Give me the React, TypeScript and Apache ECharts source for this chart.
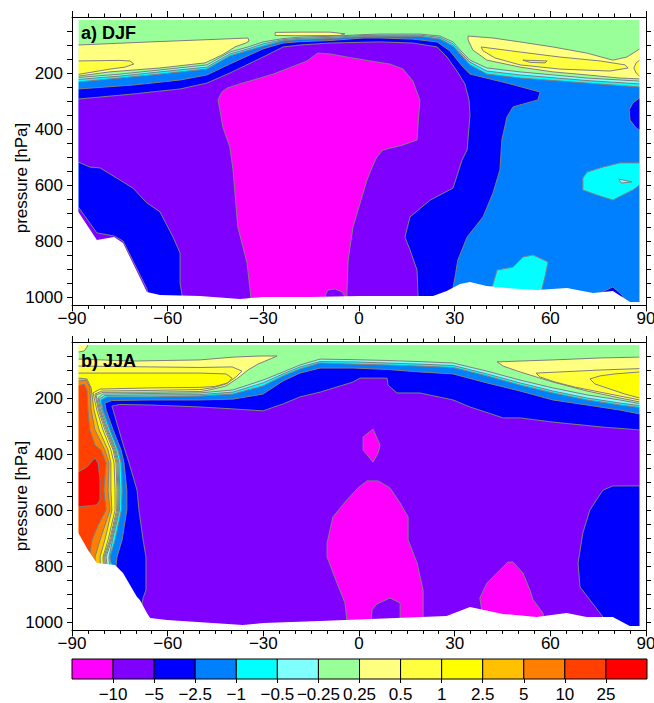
import React, { useEffect, useRef } from "react";
import * as echarts from "echarts";

const FONT = "'Liberation Sans', Arial, Helvetica, sans-serif";
const LINE_COLOR = "#7f7f7f";

// colour levels (lowest to highest) and the colorbar tick labels
const levelColors = [
  "#ff00ff", "#8000ff", "#0000ff", "#0080ff", "#00ffff", "#80ffff", "#99ff99",
  "#ffff80", "#ffff40", "#ffff00", "#ffc000", "#ff8000", "#ff4000", "#ff0000",
];
const levelLabels = ["\u221210", "\u22125", "\u22122.5", "\u22121", "\u22120.5", "\u22120.25", "0.25", "0.5", "1", "2.5", "5", "10", "25"];
const colorbarTickValues = [1, 2, 3, 4, 5, 6, 7, 8, 9, 10, 11, 12, 13];

// axes
const pressureTickValues = [50, 100, 150, 200, 250, 300, 350, 400, 450, 500, 550, 600, 650, 700, 750, 800, 850, 900, 950, 1000];
const pressureLabelValues = [200, 400, 600, 800, 1000];
const P_TOP = 10;
const P_MAX = 1030;
const LAT_EDGE = 88;

type Pt = number[];

// ---------------- a) DJF ----------------
const djfSurface: Pt[] = [[-88, 696], [-82.2, 796], [-76.8, 786], [-74, 807], [-66.5, 982], [-62.4, 993], [-49.9, 996], [-37.3, 1007], [-30, 1000], [-15.4, 1000], [0.3, 996], [23.2, 996], [27.5, 979], [31.7, 954], [34.8, 946], [40, 961], [46.3, 968], [55.8, 975], [65.2, 968], [73.4, 986], [79.6, 979], [85, 1018], [88, 1018]];
const djfPos025West: Pt[] = [[-88, 100], [-65.5, 89], [-49.9, 82], [-34.8, 75], [-34.5, 86], [-35.5, 93], [-38.9, 107], [-43, 136], [-48.3, 164], [-62.4, 182], [-78.1, 196], [-88, 211]];
const djfPos05West: Pt[] = [[-88, 157], [-75, 155], [-71.8, 157], [-70.6, 168], [-73.4, 179], [-78.1, 186], [-88, 205]];
const djfPos025Mid: Pt[] = [[-26.3, 55], [-18.5, 54], [-9.1, 54], [-4.4, 60], [-6, 66], [-18.5, 67], [-26.3, 66]];
const djfPos025East: Pt[] = [[88, 221], [81.8, 218], [71.5, 207], [60.8, 196], [50.5, 179], [40.1, 154], [35.7, 118], [34.2, 82], [34.2, 68], [42, 75], [50.5, 89], [60.8, 107], [71.5, 129], [79.6, 154], [84, 143], [88, 114]];
const djfPos05East: Pt[] = [[38.3, 107], [50.5, 125], [63, 143], [75.6, 157], [83.4, 171], [84.4, 182], [78.7, 193], [63, 186], [50.5, 171], [42.6, 146], [38.9, 121]];
const djfPos05EastEdge: Pt[] = [[88, 154], [86.9, 164], [86.2, 182], [86.9, 200], [88, 211]];
const djfPos1East: Pt[] = [[51.4, 154], [59, 157], [58.3, 164], [53.6, 162]];
const djfNeg025: Pt[] = [[-88, 216], [-75, 204], [-62.4, 189], [-47.7, 171], [-40.5, 125], [-34.8, 107], [-30.1, 89], [-23.8, 77], [-18.5, 72], [-9.1, 69], [1.3, 63], [6.6, 61], [19.1, 61], [25.4, 68], [29.5, 89], [32.3, 125], [34.8, 154], [40.1, 182], [50.5, 196], [71.5, 218], [88, 229]];
const djfNeg05: Pt[] = [[-88, 223], [-75, 211], [-62.4, 196], [-47.7, 179], [-40.5, 132], [-34.8, 114], [-30.1, 96], [-23.8, 81], [-18.5, 76], [-9.1, 73], [1.3, 66], [6.6, 65], [19.1, 65], [25.4, 73], [29.5, 96], [32.3, 132], [34.8, 161], [40.1, 193], [50.5, 207], [71.5, 227], [88, 239]];
const djfNeg1: Pt[] = [[-88, 232], [-75, 218], [-62.4, 204], [-47.7, 186], [-40.5, 139], [-34.8, 120], [-30.1, 104], [-23.8, 85], [-18.5, 80], [-9.1, 77], [1.3, 70], [6.6, 69], [19.1, 69], [25.4, 79], [29.5, 104], [32.3, 139], [34.8, 171], [40.1, 204], [50.5, 218], [71.5, 236], [88, 250]];
const djfNeg25: Pt[] = [[-88, 257], [-70.9, 243], [-56.1, 225], [-47.7, 207], [-40.5, 168], [-30.1, 114], [-23.8, 93], [-18.5, 88], [-9.1, 84], [1.3, 75], [6.6, 75], [16.9, 79], [24.5, 89], [28.5, 121], [32.6, 179], [34.8, 204], [46.4, 236], [56.8, 268], [56.1, 296], [48.3, 321], [46.4, 357], [44.8, 439], [44.2, 546], [42, 629], [38.9, 714], [33.9, 786], [31, 868], [30.1, 929], [28.5, 1030]];
const djfNeg5: Pt[] = [[-88, 293], [-70.9, 275], [-56.1, 257], [-47.7, 236], [-40.5, 200], [-30.1, 143], [-23.8, 107], [-18.5, 100], [-9.1, 93], [6.6, 89], [16.9, 93], [24.5, 107], [27.6, 143], [30.7, 193], [33.2, 239], [34.5, 296], [34.8, 350], [33.9, 475], [32.3, 511], [29.5, 611], [22.3, 654], [16, 714], [14.4, 786], [16, 832], [18.2, 904], [18.5, 993], [18.5, 1030]];
const djfNeg5West: Pt[] = [[-88, 518], [-84.4, 536], [-81.2, 539], [-75, 582], [-70.9, 611], [-66.5, 664], [-62.4, 696], [-58.3, 786], [-56.1, 843], [-56.1, 950], [-55.5, 993], [-55.5, 1030]];
const djfNeg5Strip: Pt[] = [[-88, 679], [-82.2, 771], [-76.8, 782], [-74, 800], [-66.5, 971], [-65.5, 1030]];
const djfNeg10: Pt[] = [[-33.6, 1030], [-35.1, 879], [-38, 750], [-39.5, 546], [-40.5, 464], [-42.7, 393], [-43.6, 332], [-44.2, 296], [-43, 268], [-41.4, 254], [-37.3, 239], [-26.9, 204], [-16.3, 157], [-12.9, 129], [-9.1, 132], [-3.8, 143], [3.5, 157], [9.7, 168], [13.8, 186], [16.9, 229], [18.5, 279], [19.1, 296], [18.5, 386], [18.2, 439], [13.8, 457], [7.5, 475], [5.6, 500], [4.4, 529], [2.5, 582], [-1.9, 750], [-3.4, 868], [-3.8, 986], [-3.8, 1030]];
const djfBump: Pt[] = [[-10.9, 1030], [-10.4, 990], [-9.7, 975], [-7.5, 971], [-5.3, 982], [-4.6, 995], [-4.4, 1030]];
const djfBlueEdge: Pt[] = [[88, 289], [85.9, 307], [84.7, 332], [85, 368], [86.9, 396], [88, 404]];
const djfBlueSurface: Pt[] = [[75.6, 1030], [76.2, 982], [79.6, 964], [82.5, 993], [84.4, 1030]];
const djfCyanEast: Pt[] = [[88, 521], [81.8, 521], [76.5, 536], [71.5, 554], [70.2, 575], [70.2, 618], [74.6, 636], [79.6, 654], [85.9, 618], [88, 600]];
const djfLightCyanDot: Pt[] = [[81.5, 579], [85.6, 589], [82.2, 593]];
const djfCyanSurface: Pt[] = [[40.1, 1030], [43.3, 904], [48.3, 893], [51.4, 857], [54.6, 850], [59.3, 875], [58.3, 929], [56.1, 1030]];

// ---------------- b) JJA ----------------
const jjaSurface: Pt[] = [[-88, 682], [-85, 743], [-82.2, 789], [-76.5, 796], [-74, 825], [-70.9, 886], [-69.6, 911], [-68.7, 921], [-66.5, 968], [-65.5, 986], [-60.2, 993], [-36.4, 1011], [-30, 1004], [-12.3, 996], [27.5, 979], [34.8, 946], [45.1, 971], [55.7, 982], [65.1, 968], [71.4, 982], [79.6, 982], [84.9, 1014], [88, 1014]];
const jjaCorner: Pt[] = [[-88, 36], [-86.2, 32], [-85.3, 18], [-85, 10]];
const jjaPos025: Pt[] = [[-88, 61], [-70.9, 68], [-49.9, 64], [-39.5, 54], [-31, 50], [-25.7, 50], [-27.9, 61], [-31.7, 79], [-34.8, 100], [-38, 129], [-41.7, 157], [-46.7, 171], [-49.9, 177], [-65.5, 179], [-80.3, 180], [-82.5, 189], [-81.4, 243], [-79.3, 314], [-76.8, 386], [-75.9, 432], [-75.6, 529], [-75.7, 600], [-77.9, 707], [-79.7, 768], [-79.3, 832]];
const jjaPos05: Pt[] = [[-88, 86], [-65.5, 89], [-49.9, 91], [-39.8, 89], [-36.7, 104], [-38.6, 125], [-41.7, 150], [-46.1, 164], [-49.9, 170], [-65.5, 173], [-80.6, 175], [-82.8, 186], [-81.7, 243], [-79.7, 314], [-77.1, 386], [-76.2, 432], [-75.9, 529], [-76, 600], [-78.2, 707], [-80, 768], [-79.7, 832]];
const jjaPos1: Pt[] = [[-88, 111], [-65.5, 111], [-49.9, 111], [-41.7, 114], [-39.8, 129], [-41.1, 146], [-45.2, 159], [-49.9, 162], [-65.5, 164], [-81.2, 168], [-83.4, 182], [-82.2, 243], [-80.3, 314], [-77.8, 386], [-76.8, 432], [-76.5, 529], [-76.5, 600], [-78.7, 707], [-80.3, 768], [-80, 832]];
const jjaPos25: Pt[] = [[-88, 129], [-85.3, 132], [-84, 164], [-83.1, 243], [-81.5, 314], [-78.7, 386], [-77.8, 432], [-77.8, 529], [-77.5, 600], [-79.7, 707], [-81.2, 768], [-80.9, 832]];
const jjaPos5: Pt[] = [[-88, 139], [-85.6, 136], [-84.4, 161], [-84, 243], [-82.8, 314], [-79.7, 386], [-78.4, 432], [-78.7, 529], [-78.1, 600], [-81.2, 707], [-82.8, 768], [-82.5, 832]];
const jjaPos10: Pt[] = [[-88, 157], [-86.2, 150], [-85.3, 171], [-85, 243], [-84.4, 314], [-82.8, 368], [-80.9, 386], [-79.3, 432], [-80, 529], [-79.3, 600], [-81.8, 654], [-83.7, 707], [-84.7, 779]];
const jjaPos25Red: Pt[] = [[-88, 464], [-85.3, 446], [-82.8, 414], [-81.8, 432], [-81.2, 493], [-81.2, 564], [-82.2, 582], [-88, 589]];
const jjaPos025East: Pt[] = [[88, 214], [81.8, 200], [71.5, 175], [60.8, 143], [50.5, 107], [45.2, 86], [43.3, 71], [50.5, 68], [60.8, 64], [75.6, 57], [88, 54]];
const jjaPos05East: Pt[] = [[88, 207], [81.8, 193], [75.6, 179], [67.7, 161], [61.5, 143], [56.8, 125], [55.5, 111], [63, 107], [75.6, 100], [88, 95]];
const jjaPos1East: Pt[] = [[88, 200], [83.4, 186], [78.7, 168], [74, 150], [72.4, 132], [75.6, 121], [80.3, 114], [88, 107]];
const jjaNeg025: Pt[] = [[-78.7, 832], [-79.3, 768], [-77.6, 707], [-75.4, 600], [-75.3, 529], [-75.6, 432], [-76.5, 386], [-79, 314], [-81.1, 243], [-81.8, 200], [-80.3, 186], [-65.5, 184], [-49.9, 182], [-39.5, 171], [-30.1, 136], [-23.8, 107], [-18.5, 82], [-12.2, 61], [-1.9, 63], [8.8, 66], [19.1, 70], [29.5, 75], [40.1, 104], [50.5, 136], [60.8, 164], [71.5, 189], [81.8, 207], [88, 220]];
const jjaNeg05: Pt[] = [[-78.1, 832], [-78.4, 768], [-77.3, 707], [-75.1, 600], [-75, 529], [-75.3, 432], [-76.2, 386], [-78.7, 314], [-80.7, 243], [-81.5, 204], [-79.7, 191], [-65.5, 189], [-49.9, 188], [-39.5, 179], [-30.1, 146], [-23.8, 114], [-18.5, 89], [-12.2, 70], [-1.9, 71], [8.8, 75], [19.1, 79], [29.5, 84], [40.1, 114], [50.5, 146], [60.8, 175], [71.5, 200], [81.8, 218], [88, 227]];
const jjaNeg1: Pt[] = [[-77.1, 832], [-78.1, 768], [-76.5, 707], [-74.5, 600], [-74.3, 529], [-74.6, 432], [-75.6, 386], [-78.1, 314], [-80.3, 243], [-80.9, 207], [-79, 196], [-65.5, 196], [-49.9, 193], [-39.5, 186], [-30.1, 157], [-23.8, 121], [-18.5, 96], [-12.2, 75], [-1.9, 79], [8.8, 82], [19.1, 86], [29.5, 91], [40.1, 121], [50.5, 154], [60.8, 182], [71.5, 207], [81.8, 225], [88, 234]];
const jjaNeg25: Pt[] = [[-76.5, 832], [-75.9, 768], [-74.3, 707], [-72.8, 600], [-72.8, 529], [-73.7, 432], [-74.6, 386], [-77.1, 314], [-79.3, 243], [-79.7, 218], [-77.5, 209], [-65.5, 207], [-49.9, 207], [-39.5, 204], [-30.1, 186], [-23.8, 139], [-18.5, 111], [-12.2, 93], [-1.9, 93], [8.8, 98], [19.1, 107], [29.5, 114], [40.1, 146], [50.5, 175], [60.8, 207], [71.5, 225], [81.8, 243], [88, 257]];
const jjaNeg5: Pt[] = [[-68.4, 957], [-67.7, 914], [-66.8, 886], [-66.8, 768], [-67.7, 707], [-69, 600], [-69.6, 529], [-72.1, 432], [-73.4, 386], [-75.3, 314], [-77.1, 243], [-77.5, 229], [-75, 223], [-65.5, 225], [-49.9, 232], [-39.5, 239], [-30.1, 246], [-23.8, 221], [-18.5, 196], [-12.2, 179], [-5.9, 157], [-1.9, 143], [0.3, 129], [8.8, 129], [9.1, 154], [11.9, 182], [19.1, 182], [29.5, 207], [34.8, 232], [45.2, 271], [50.5, 271], [60.8, 286], [76.5, 304], [88, 314]];
const jjaNeg5East: Pt[] = [[88, 514], [79.6, 514], [76.5, 529], [72.4, 600], [70.2, 682], [68.7, 789], [69.3, 875], [72.4, 921], [76.5, 982], [77.4, 1030]];
const jjaNeg10Small: Pt[] = [[4.4, 311], [6.6, 368], [6, 396], [4.4, 429], [1.3, 386], [1.3, 339]];
const jjaNeg10Big: Pt[] = [[-3.4, 1030], [-4.4, 932], [-6.9, 861], [-10, 768], [-10, 718], [-8.2, 625], [-3.8, 564], [-0.3, 521], [2.5, 496], [6, 496], [9.7, 521], [12.9, 575], [15.4, 625], [15.4, 707], [18.2, 789], [20.1, 886], [20.1, 1030]];
const jjaBump: Pt[] = [[3.5, 1030], [4.1, 957], [5.6, 936], [9.7, 914], [12.9, 932], [12.9, 1030]];
const jjaNeg10East: Pt[] = [[39.5, 1030], [37.9, 914], [40.1, 861], [44.2, 814], [46.7, 786], [48.3, 786], [51.4, 825], [53.6, 886], [54.6, 921], [57.7, 968], [58.3, 1030]];

// ---------------- shape building ----------------
type Shape = { pts: Pt[]; fill?: string; closed?: boolean };
const fillS = (pts: Pt[], lvl: number): Shape => ({ pts, fill: levelColors[lvl] });
const lineS = (pts: Pt[], closed = false): Shape => ({ pts, closed });
const maskS = (pts: Pt[]): Shape => ({ pts, fill: "#ffffff" });
const closeDown = (line: Pt[]): Pt[] => [...line, [line[line.length - 1][0], P_MAX], [line[0][0], P_MAX]];
const domain: Pt[] = [[-LAT_EDGE, P_TOP], [LAT_EDGE, P_TOP], [LAT_EDGE, P_MAX], [-LAT_EDGE, P_MAX]];

function masks(surface: Pt[]): Shape[] {
  const last = surface[surface.length - 1];
  return [
    maskS([[-90, P_MAX], [-90, surface[0][1]], ...surface, [90, last[1]], [90, P_MAX]]),
    maskS([[-90, 0], [-LAT_EDGE, 0], [-LAT_EDGE, P_MAX], [-90, P_MAX]]),
    maskS([[LAT_EDGE, 0], [90, 0], [90, P_MAX], [LAT_EDGE, P_MAX]]),
    maskS([[-90, 0], [90, 0], [90, P_TOP], [-90, P_TOP]]),
  ];
}

const djfShapes: Shape[] = [
  fillS(domain, 6),
  fillS(djfPos025West, 7), fillS(djfPos05West, 8), fillS(djfPos025Mid, 7),
  fillS(djfPos025East, 7), fillS(djfPos05East, 8), fillS(djfPos05EastEdge, 8), fillS(djfPos1East, 9),
  fillS(closeDown(djfNeg025), 5), fillS(closeDown(djfNeg05), 4), fillS(closeDown(djfNeg1), 3),
  fillS(closeDown(djfNeg25), 2), fillS(djfBlueEdge, 2), fillS(djfBlueSurface, 2),
  fillS([...djfNeg5, ...[...djfNeg5West].reverse()], 1), fillS(closeDown(djfNeg5Strip), 1),
  fillS(djfNeg10, 0), fillS(djfBump, 1),
  fillS(djfCyanEast, 4), fillS(djfLightCyanDot, 5), fillS(djfCyanSurface, 4),
  lineS(djfPos025West), lineS(djfPos05West), lineS(djfPos025Mid, true), lineS(djfPos025East),
  lineS(djfPos05East, true), lineS(djfPos05EastEdge), lineS(djfPos1East, true),
  lineS(djfNeg025), lineS(djfNeg05), lineS(djfNeg1), lineS(djfNeg25), lineS(djfBlueEdge), lineS(djfBlueSurface),
  lineS(djfNeg5), lineS(djfNeg5West), lineS(djfNeg5Strip), lineS(djfNeg10), lineS(djfBump),
  lineS(djfCyanEast), lineS(djfLightCyanDot, true), lineS(djfCyanSurface),
  ...masks(djfSurface),
];

const jjaShapes: Shape[] = [
  fillS(domain, 6),
  fillS([...jjaCorner, [-88, P_TOP]], 7),
  fillS(closeDown(jjaPos025), 7), fillS(closeDown(jjaPos05), 8), fillS(closeDown(jjaPos1), 9),
  fillS(closeDown(jjaPos25), 10), fillS(closeDown(jjaPos5), 11), fillS(closeDown(jjaPos10), 12),
  fillS(jjaPos25Red, 13),
  fillS(jjaPos025East, 7), fillS(jjaPos05East, 8), fillS(jjaPos1East, 9),
  fillS(closeDown(jjaNeg025), 5), fillS(closeDown(jjaNeg05), 4), fillS(closeDown(jjaNeg1), 3),
  fillS(closeDown(jjaNeg25), 2),
  fillS([...jjaNeg5, ...jjaNeg5East, [jjaNeg5[0][0], P_MAX]], 1),
  fillS(jjaNeg10Small, 0), fillS(jjaNeg10Big, 0), fillS(jjaBump, 1), fillS(jjaNeg10East, 0),
  lineS(jjaCorner), lineS(jjaPos025), lineS(jjaPos05), lineS(jjaPos1), lineS(jjaPos25), lineS(jjaPos5),
  lineS(jjaPos10), lineS(jjaPos25Red), lineS(jjaPos025East), lineS(jjaPos05East), lineS(jjaPos1East),
  lineS(jjaNeg025), lineS(jjaNeg05), lineS(jjaNeg1), lineS(jjaNeg25), lineS(jjaNeg5), lineS(jjaNeg5East),
  lineS(jjaNeg10Small, true), lineS(jjaNeg10Big), lineS(jjaBump), lineS(jjaNeg10East),
  ...masks(jjaSurface),
];

function contourSeries(shapes: Shape[], axisIndex: number) {
  return {
    type: "custom",
    xAxisIndex: axisIndex,
    yAxisIndex: axisIndex,
    clip: true,
    silent: true,
    data: shapes.map((s) => s.pts[0]),
    renderItem: (params: any, api: any) => {
      const s = shapes[params.dataIndex];
      const points = s.pts.map((p) => api.coord(p));
      if (s.fill) {
        return { type: "polygon", shape: { points }, style: { fill: s.fill, stroke: null } };
      }
      return {
        type: s.closed ? "polygon" : "polyline",
        shape: { points },
        style: { fill: null, stroke: LINE_COLOR, lineWidth: 1 },
      };
    },
  };
}

const axisLineStyle = { color: "#000", width: 1 };
const fmtSigned = (v: number) => (v < 0 ? "\u2212" + Math.abs(v) : String(v));

function latAxis(gridIndex: number, position: string, showLabels: boolean) {
  return {
    type: "value", gridIndex, position, min: -90, max: 90, interval: 30, z: 5,
    axisLine: { show: true, onZero: false, lineStyle: axisLineStyle },
    axisTick: { show: true, length: 6, lineStyle: axisLineStyle },
    minorTick: { show: true, splitNumber: 6, length: 3.5, lineStyle: axisLineStyle },
    splitLine: { show: false }, minorSplitLine: { show: false },
    axisLabel: { show: showLabels, fontSize: 17, fontFamily: FONT, color: "#000", margin: 5, formatter: fmtSigned },
  };
}
function pAxis(gridIndex: number, position: string, showLabels: boolean) {
  return {
    type: "value", gridIndex, position, inverse: true, min: 0, max: P_MAX, z: 5,
    axisLine: { show: true, onZero: false, lineStyle: axisLineStyle },
    axisTick: { show: true, length: 5, customValues: pressureTickValues, lineStyle: axisLineStyle },
    axisLabel: {
      show: showLabels, customValues: pressureLabelValues, fontSize: 17, fontFamily: FONT, color: "#000", margin: 9,
      formatter: (v: number) => String(v),
    },
    splitLine: { show: false },
  };
}

const PANEL_H = P_MAX * 0.28;

const option: any = {
  animation: false,
  backgroundColor: "#ffffff",
  grid: [
    { left: 72, top: 17, width: 574, height: PANEL_H, outerBoundsMode: "none" },
    { left: 72, top: 342, width: 574, height: PANEL_H, outerBoundsMode: "none" },
    { left: 72, top: 659, width: 575, height: 20, outerBoundsMode: "none" },
  ],
  xAxis: [
    latAxis(0, "bottom", true),
    latAxis(0, "top", false),
    latAxis(1, "bottom", true),
    latAxis(1, "top", false),
    {
      type: "value", gridIndex: 2, min: 0, max: 14, position: "bottom",
      axisLine: { show: false, onZero: false },
      axisTick: { show: true, length: 4, customValues: colorbarTickValues, lineStyle: axisLineStyle },
      axisLabel: {
        show: true, customValues: colorbarTickValues, fontSize: 17, fontFamily: FONT, color: "#000", margin: 7,
        formatter: (v: number) => levelLabels[Math.round(v) - 1] ?? "",
      },
      splitLine: { show: false },
    },
  ],
  yAxis: [
    pAxis(0, "left", true),
    pAxis(0, "right", false),
    pAxis(1, "left", true),
    pAxis(1, "right", false),
    { type: "value", gridIndex: 2, min: 0, max: 1, show: false },
  ],
  series: [
    contourSeries(djfShapes, 0),
    contourSeries(jjaShapes, 2),
    {
      type: "custom",
      xAxisIndex: 4,
      yAxisIndex: 4,
      silent: true,
      data: levelColors.map((c, i) => [i + 0.5, 0.5]),
      renderItem: (params: any, api: any) => {
        const i = params.dataIndex;
        const p0 = api.coord([i, 1]);
        const p1 = api.coord([i + 1, 0]);
        return {
          type: "rect",
          shape: { x: p0[0], y: p0[1], width: p1[0] - p0[0], height: p1[1] - p0[1] },
          style: { fill: levelColors[i], stroke: "#000", lineWidth: 1 },
        };
      },
    },
  ],
  graphic: [
    { type: "text", x: 81, y: 33, z: 100, style: { text: "a) DJF", fontSize: 18, fontWeight: "bold", fontFamily: FONT, fill: "#000", verticalAlign: "middle", textVerticalAlign: "middle" } },
    { type: "text", x: 81, y: 361, z: 100, style: { text: "b) JJA", fontSize: 18, fontWeight: "bold", fontFamily: FONT, fill: "#000", verticalAlign: "middle", textVerticalAlign: "middle" } },
    { type: "text", x: 21, y: 178, rotation: Math.PI / 2, z: 100, style: { text: "pressure [hPa]", fontSize: 17, fontFamily: FONT, fill: "#000", align: "center", textAlign: "center", verticalAlign: "middle", textVerticalAlign: "middle" } },
    { type: "text", x: 21, y: 496, rotation: Math.PI / 2, z: 100, style: { text: "pressure [hPa]", fontSize: 17, fontFamily: FONT, fill: "#000", align: "center", textAlign: "center", verticalAlign: "middle", textVerticalAlign: "middle" } },
  ],
};

export default function App() {
  const ref = useRef<HTMLDivElement>(null);
  useEffect(() => {
    if (!ref.current) return;
    const chart = echarts.init(ref.current, undefined, { renderer: "svg" });
    chart.setOption(option);
    return () => chart.dispose();
  }, []);
  return (
    <div
      ref={ref}
      style={{ position: "fixed", left: 0, top: 0, width: 654, height: 703, background: "#ffffff" }}
    />
  );
}
